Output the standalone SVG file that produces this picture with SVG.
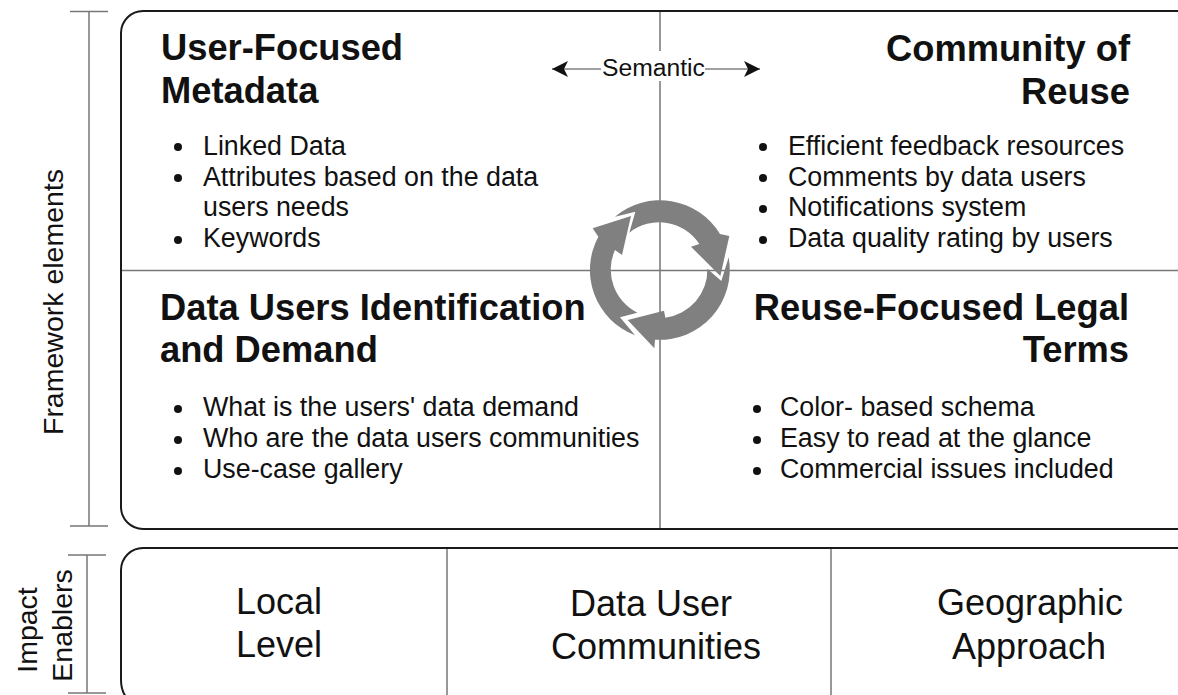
<svg xmlns="http://www.w3.org/2000/svg" width="1178" height="695" viewBox="0 0 1178 695">
<style>
text{font-family:"Liberation Sans",Arial,sans-serif;fill:#111}
.h{font-size:36.3px;font-weight:700}
.b{font-size:26.8px}
.e{font-size:36px;text-anchor:middle}
.s{font-size:28.5px;text-anchor:middle}
.r{text-anchor:end}
.frame{fill:none;stroke:#1a1a1a;stroke-width:2}
.line{fill:none;stroke:#777;stroke-width:1.5}
.dot{fill:#111}
.ring{fill:#808080}
</style>
<defs>
<marker id="a" markerUnits="userSpaceOnUse" markerWidth="16" markerHeight="16" refX="14" refY="7" orient="auto-start-reverse" viewBox="0 0 14 14"><path d="M0 0L14 7L0 14L3.500 7Z" fill="#111"/></marker>
</defs>
<g id="connectors">
<path class="line" d="M89 12V526M70 11.500H108M70 526H108"/>
<path class="line" d="M87 555V693M68 555H106M68 693H106"/>
<path class="line" d="M660 12V51M660 81V529M121 270.500H1178"/>
<path class="line" d="M447 549V695M831 549V695"/>
<path d="M601 69H552" fill="none" stroke="#444" stroke-width="1.200" marker-end="url(#a)"/>
<path d="M705 69H760" fill="none" stroke="#444" stroke-width="1.200" marker-end="url(#a)"/>
</g>
<g id="framework-frame"><path class="frame" d="M1180 11H143A22 22 0 0 0 121 33V507A22 22 0 0 0 143 529H1180"/></g>
<g id="enablers-frame"><path class="frame" d="M1180 548H143A22 22 0 0 0 121 570V680Q121 690 126 697"/></g>
<g id="semantic"><text x="653.500" y="76" font-size="24.700" text-anchor="middle">Semantic</text></g>
<g id="framework-label"><text class="s" transform="translate(63 302) rotate(-90)">Framework elements</text></g>
<g id="impact-label"><text class="s" transform="translate(37 630) rotate(-90)">Impact</text><text class="s" transform="translate(72 625.500) rotate(-90)">Enablers</text></g>
<g id="user-focused-metadata">
<text class="h" x="161" y="60">User-Focused</text><text class="h" x="161" y="103">Metadata</text>
<circle class="dot" cx="178" cy="147" r="4"/><circle class="dot" cx="178" cy="178" r="4"/><circle class="dot" cx="178" cy="240" r="4"/>
<text class="b" x="203" y="155">Linked Data</text><text class="b" x="203" y="186">Attributes based on the data</text><text class="b" x="203" y="216">users needs</text><text class="b" x="203" y="247">Keywords</text>
</g>
<g id="community-of-reuse">
<text class="h r" x="1130" y="61">Community of</text><text class="h r" x="1130" y="104">Reuse</text>
<circle class="dot" cx="763" cy="147" r="4"/><circle class="dot" cx="763" cy="178" r="4"/><circle class="dot" cx="763" cy="209" r="4"/><circle class="dot" cx="763" cy="240" r="4"/>
<text class="b" x="788" y="155">Efficient feedback resources</text><text class="b" x="788" y="186">Comments by data users</text><text class="b" x="788" y="216">Notifications system</text><text class="b" x="788" y="247">Data quality rating by users</text>
</g>
<g id="data-users">
<text class="h" x="160" y="320">Data Users Identification</text><text class="h" x="160" y="362">and Demand</text>
<circle class="dot" cx="178" cy="409" r="4"/><circle class="dot" cx="178" cy="440" r="4"/><circle class="dot" cx="178" cy="471" r="4"/>
<text class="b" x="203" y="416">What is the users' data demand</text><text class="b" x="203" y="447">Who are the data users communities</text><text class="b" x="203" y="478">Use-case gallery</text>
</g>
<g id="legal-terms">
<text class="h r" x="1129" y="320">Reuse-Focused Legal</text><text class="h r" x="1129" y="362">Terms</text>
<circle class="dot" cx="757" cy="409" r="4"/><circle class="dot" cx="757" cy="440" r="4"/><circle class="dot" cx="757" cy="471" r="4"/>
<text class="b" x="780" y="416">Color- based schema</text><text class="b" x="780" y="447">Easy to read at the glance</text><text class="b" x="780" y="478">Commercial issues included</text>
</g>
<g id="cycle" class="ring" transform="translate(560 180) scale(.33333)">
<path d="M165 110A210 210 0 0 1 480 162L508 168L481 288L393 200L418 192A144 144 0 0 0 208 158L226 95Z"/>
<path d="M506 232A210 210 0 0 1 285 479L283 505L203 420L312 392L316 413A144 144 0 0 0 442 266L484 303Z"/>
<path d="M225 466A210 210 0 0 1 115 170L98 145L213 108L186 225L165 210A144 144 0 0 0 232 398L180 412Z"/>
</g>
<g id="local-level"><text class="e" x="279" y="614">Local</text><text class="e" x="279" y="657">Level</text></g>
<g id="data-user-communities"><text class="e" x="651" y="616">Data User</text><text class="e" x="656" y="659">Communities</text></g>
<g id="geographic-approach"><text class="e" x="1030" y="615">Geographic</text><text class="e" x="1029" y="659">Approach</text></g>
</svg>
